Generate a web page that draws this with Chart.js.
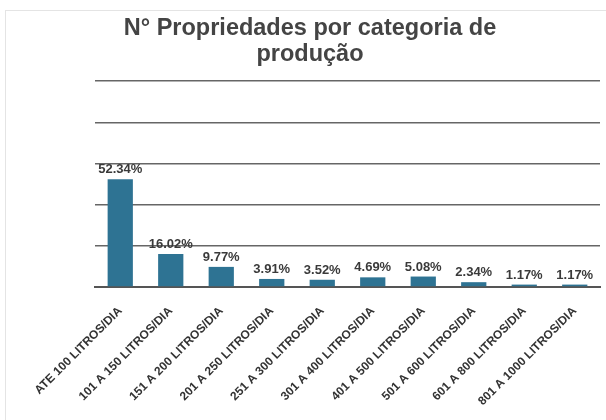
<!DOCTYPE html>
<html><head><meta charset="utf-8">
<script src="https://cdn.jsdelivr.net/npm/chart.js@4/dist/chart.umd.min.js"></script>
<style>
html,body{margin:0;padding:0;background:#fff;}
#wrap{position:relative;width:606px;height:420px;}
#frame{position:absolute;left:5px;top:10px;width:610px;height:420px;border-left:1px solid #e4e4e4;border-top:1px solid #e4e4e4;pointer-events:none;}
</style></head>
<body>
<div id="wrap"><canvas id="c" width="606" height="420"></canvas><div id="frame"></div></div>
<script>
const categories = ["ATE 100 LITROS/DIA","101 A 150 LITROS/DIA","151 A 200 LITROS/DIA","201 A 250 LITROS/DIA","251 A 300 LITROS/DIA","301 A 400 LITROS/DIA","401 A 500 LITROS/DIA","501 A 600 LITROS/DIA","601 A 800 LITROS/DIA","801 A 1000 LITROS/DIA"];
const percentValues = [52.34,16.02,9.77,3.91,3.52,4.69,5.08,2.34,1.17,1.17];
const titleLines = ["N° Propriedades por categoria de","produção"];

const valueLabels = {
  id:'valueLabels',
  afterDatasetsDraw(chart){
    const ctx = chart.ctx;
    const meta = chart.getDatasetMeta(0);
    ctx.save();
    ctx.font = 'bold 13px "Liberation Sans", Arial, sans-serif';
    ctx.fillStyle = '#3a3a3a';
    ctx.textAlign = 'center';
    ctx.textBaseline = 'bottom';
    meta.data.forEach((bar,i)=>{
      ctx.fillText(percentValues[i].toFixed(2)+'%', bar.x, bar.y-3);
    });
    ctx.restore();
  }
};

new Chart(document.getElementById('c'),{
  type:'bar',
  data:{labels:categories,datasets:[{data:percentValues,backgroundColor:'#2e7393',borderWidth:0,barPercentage:0.5,categoryPercentage:1.0}]},
  options:{
    responsive:false,animation:false,
    layout:{padding:{left:20,right:6,top:15,bottom:0}},
    plugins:{
      legend:{display:false},tooltip:{enabled:false},
      title:{display:true,text:titleLines,color:'#444',font:{family:'"Liberation Sans", Arial, sans-serif',size:23.5,weight:'bold',lineHeight:1.13},padding:{top:0,bottom:13}}
    },
    scales:{
      x:{
        grid:{display:false},
        border:{display:true,color:'#555',width:2},
        ticks:{color:'#333',maxRotation:45,minRotation:45,autoSkip:false,padding:9,font:{family:'"Liberation Sans", Arial, sans-serif',size:12,weight:'bold'}},
        afterFit(s){s.height=133;}
      },
      y:{
        min:0,max:100,
        ticks:{display:false,stepSize:20},
        border:{display:false},
        grid:{color:'#666',lineWidth:1.5,drawTicks:false},
        afterFit(s){s.width=75;}
      }
    }
  },
  plugins:[valueLabels]
});
</script>
</body></html>
